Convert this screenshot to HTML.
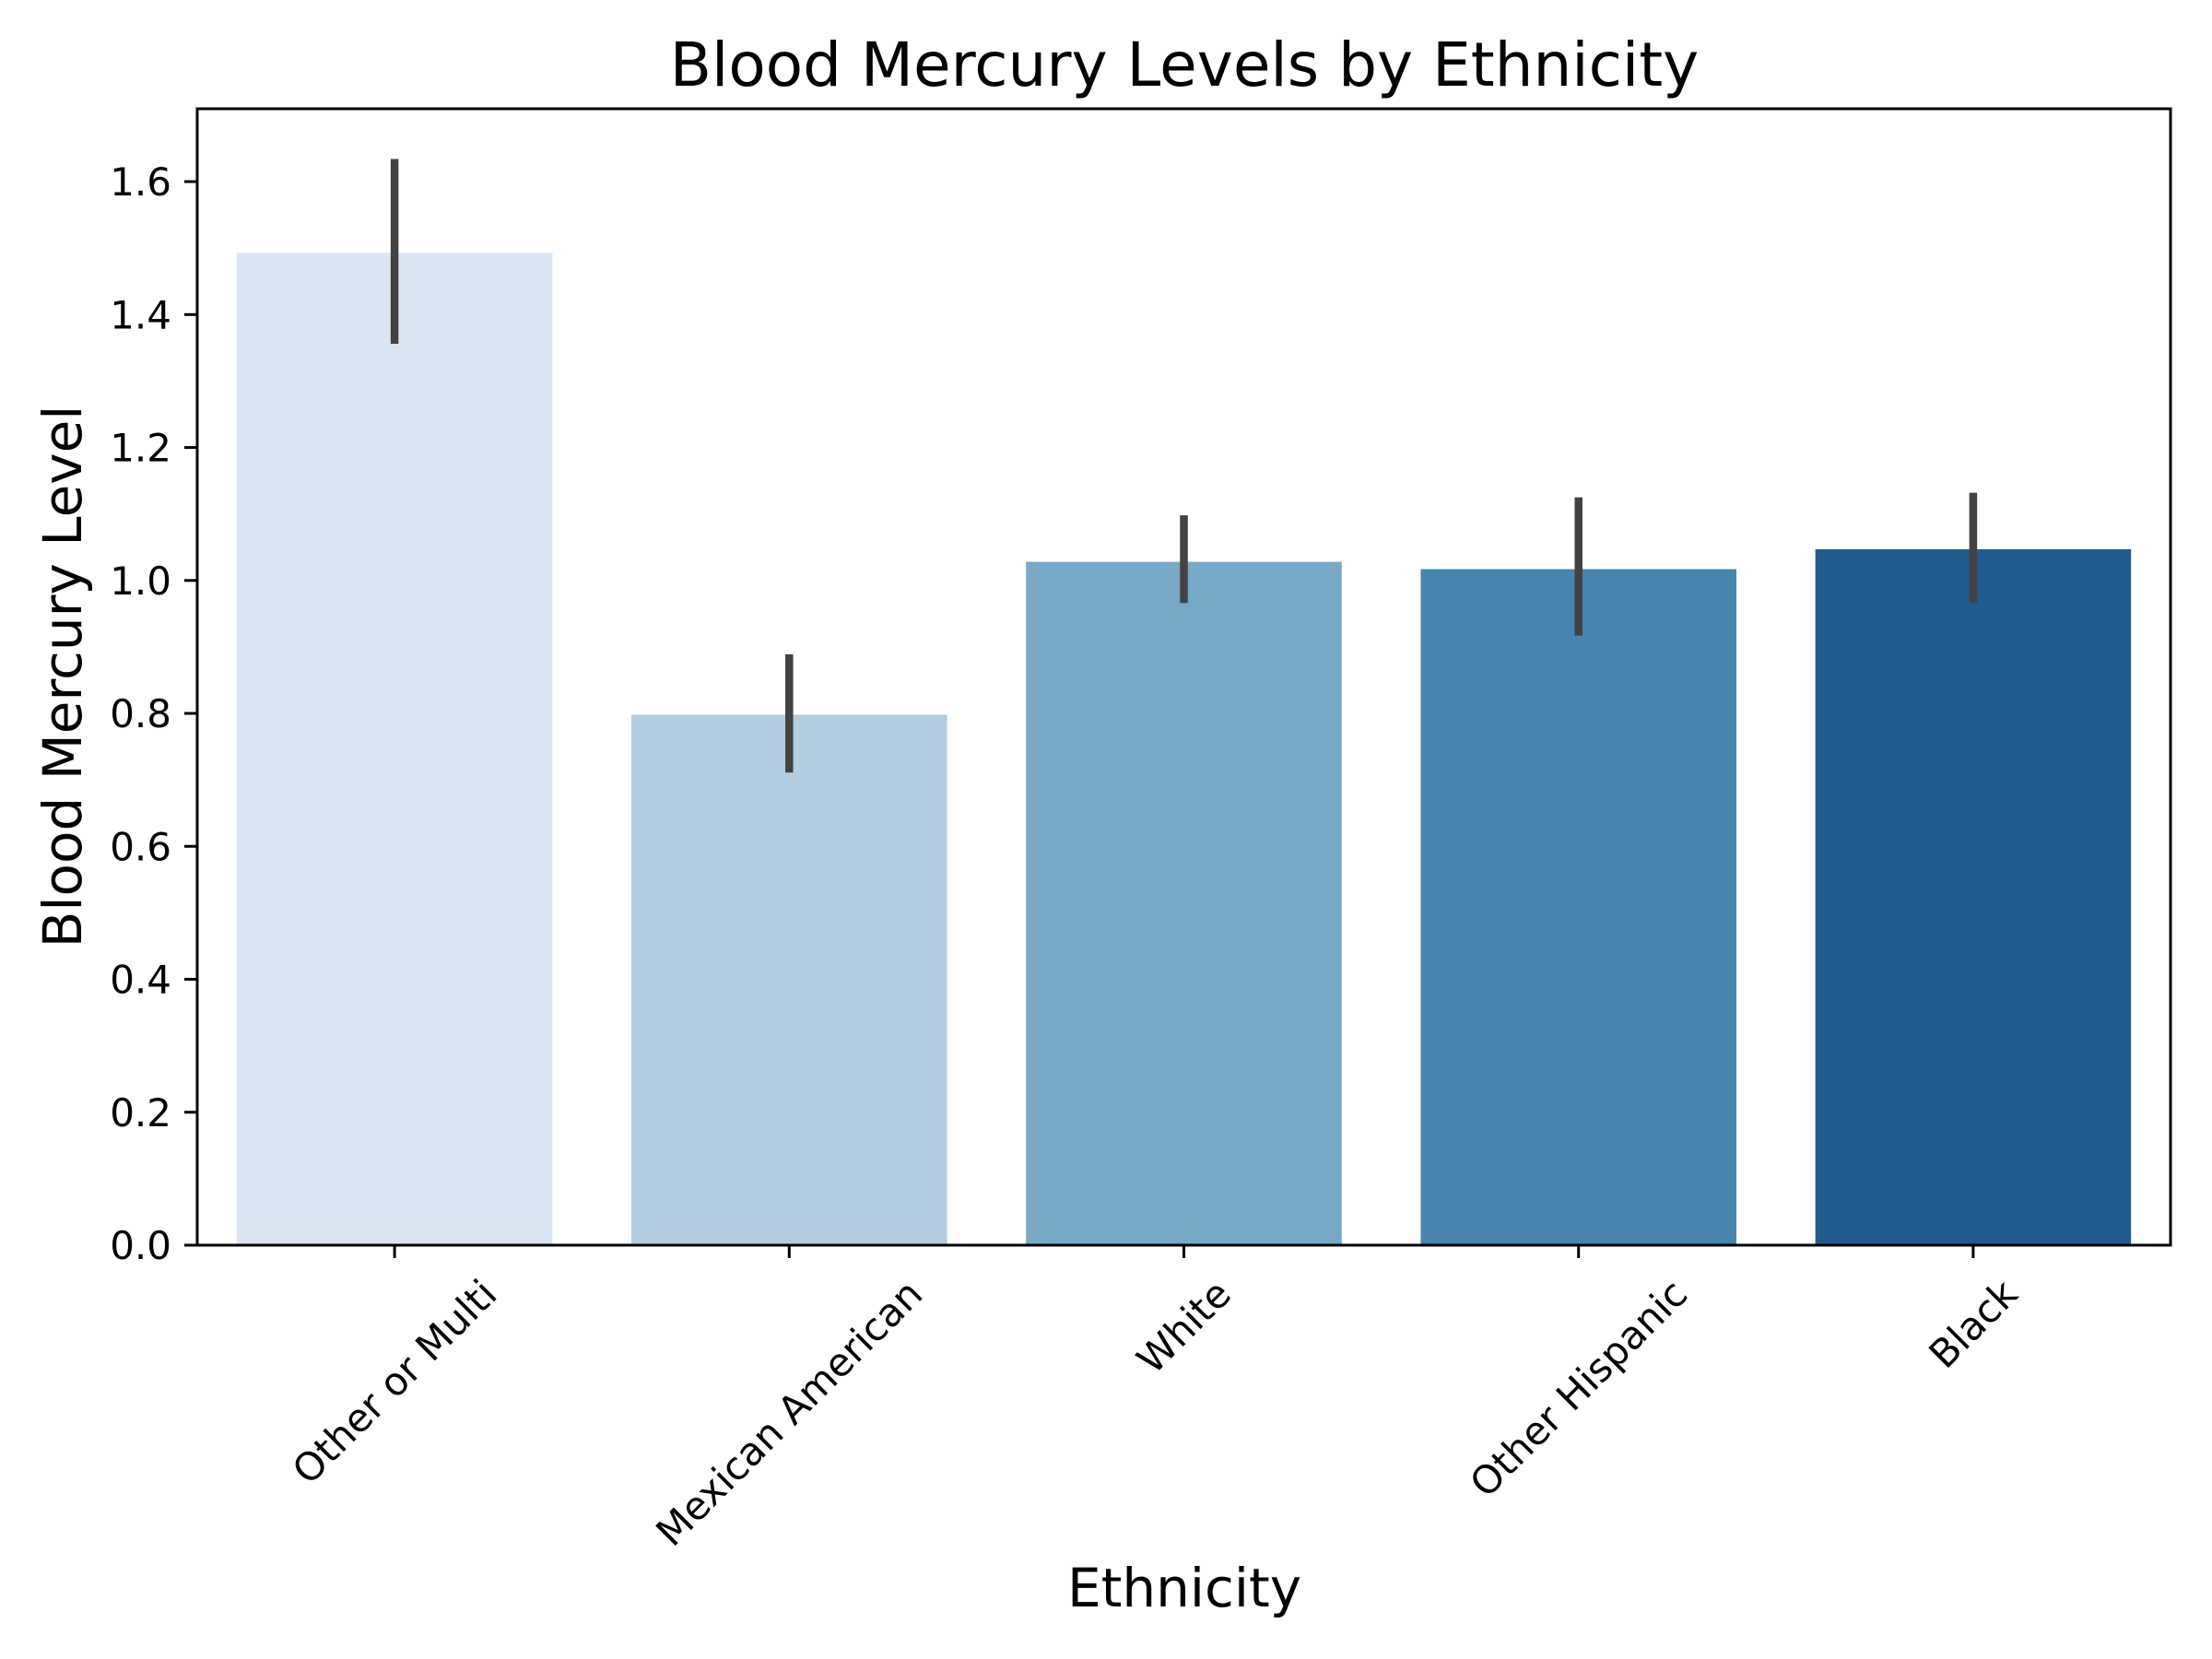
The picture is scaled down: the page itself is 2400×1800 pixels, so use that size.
<!DOCTYPE html>
<html><head><meta charset="utf-8"><style>
html,body{margin:0;padding:0;background:#fff;}
svg{display:block;font-family:"DejaVu Sans","Liberation Sans",sans-serif;}
</style></head><body>
<svg id="chart" width="2400" height="1800" viewBox="0 0 2400 1800">
<rect x="0" y="0" width="2400" height="1800" fill="#fff"/>
<g id="bars"></g>
<g id="errs"></g>
<g id="axes"></g>
<text x="1285" y="93" font-size="66" text-anchor="middle">Blood Mercury Levels by Ethnicity</text>
<text x="1285" y="1743" font-size="58" text-anchor="middle">Ethnicity</text>
<text x="0" y="0" font-size="58" text-anchor="middle" transform="translate(88,734) rotate(-90)">Blood Mercury Level</text>
</svg>
<script>
const categories = ["Other or Multi","Mexican American","White","Other Hispanic","Black"];
const values = [1.493, 0.798, 1.028, 1.017, 1.047];
const errLow = [1.356, 0.711, 0.966, 0.917, 0.966];
const errHigh = [1.634, 0.889, 1.098, 1.125, 1.132];
const yTicks = [0.0, 0.2, 0.4, 0.6, 0.8, 1.0, 1.2, 1.4, 1.6];
const yTickLabels = ["0.0","0.2","0.4","0.6","0.8","1.0","1.2","1.4","1.6"];
const colors = ["#dbe6f2","#b3cee1","#78a8c7","#4884b0","#225b8f"];

const L=214, R=2355, T=118, B=1351, YMAX=1.7096;
const NS="http://www.w3.org/2000/svg";
const xScale = i => L + (i + 0.5) * (R - L) / categories.length;
const yScale = v => B - v / YMAX * (B - T);
const bw = 0.8 * (R - L) / categories.length;
function mk(tag, attrs, parent){const e=document.createElementNS(NS,tag);for(const k in attrs)e.setAttribute(k,attrs[k]);parent.appendChild(e);return e;}
const gb=document.getElementById('bars'), ge=document.getElementById('errs'), ga=document.getElementById('axes');
categories.forEach((c,i)=>{
  const r=mk('rect',{x:xScale(i)-bw/2,y:yScale(values[i]),width:bw,height:B-yScale(values[i]),fill:colors[i]},gb);
  
  
  const l=mk('line',{x1:xScale(i),x2:xScale(i),y1:yScale(errLow[i]),y2:yScale(errHigh[i]),stroke:'#424242','stroke-width':8.5},ge);
  
  
});
const frame=mk('rect',{x:L,y:T,width:R-L,height:B-T,fill:'none',stroke:'#000','stroke-width':3},ga);


yTicks.forEach((v,i)=>{
  const y=yScale(v);
  const t=mk('line',{x1:L-14,x2:L,y1:y,y2:y,stroke:'#000','stroke-width':3},ga);
  
  
  const tx=mk('text',{x:L-28,y:y+15,'font-size':42,'text-anchor':'end'},ga);
  tx.textContent=yTickLabels[i];
  
  
});
categories.forEach((c,i)=>{
  const x=xScale(i);
  const t=mk('line',{x1:x,x2:x,y1:B,y2:B+14,stroke:'#000','stroke-width':3},ga);
  
  
  const tx=mk('text',{x:0,y:0,'font-size':42,'text-anchor':'middle','dominant-baseline':'central'},ga);
  tx.textContent=c;
  
  
  const w=tx.getComputedTextLength();
  const h=49;
  const cy=B+28+(w+h)*0.7071/2;
  tx.setAttribute('transform','translate('+x+','+cy+') rotate(-45)');
});
</script>
</body></html>
